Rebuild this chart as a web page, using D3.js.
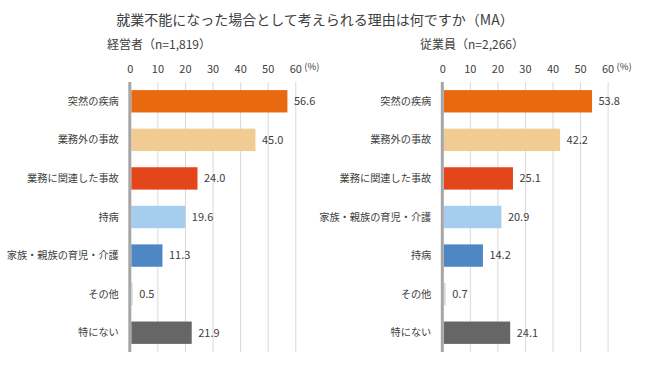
<!DOCTYPE html>
<html>
<head>
<meta charset="utf-8">
<script src="https://d3js.org/d3.v7.min.js"></script>
<style>
  body { margin: 0; background: #fff; }
  svg text { font-family: "Noto Sans CJK JP", "Noto Sans", sans-serif; fill: #404040; }
  .grid line { stroke: #d9d9d9; stroke-width: 1; }
  .grid text { font-size: 11px; }
  .cat { font-size: 10.2px; text-anchor: end; }
  .val { font-size: 11px; }
</style>
</head>
<body>
<svg id="chart" width="650" height="368"></svg>
<script>
// chart text
const title = '就業不能になった場合として考えられる理由は何ですか（MA）';
const ticks = [0, 10, 20, 30, 40, 50, 60];

// left panel: 経営者
const ownerTitle = '経営者（n=1,819）';
const ownerCats = ['突然の疾病', '業務外の事故', '業務に関連した事故', '持病', '家族・親族の育児・介護', 'その他', '特にない'];
const ownerVals = [56.6, 45.0, 24.0, 19.6, 11.3, 0.5, 21.9];

// right panel: 従業員
const staffTitle = '従業員（n=2,266）';
const staffCats = ['突然の疾病', '業務外の事故', '業務に関連した事故', '家族・親族の育児・介護', '持病', 'その他', '特にない'];
const staffVals = [53.8, 42.2, 25.1, 20.9, 14.2, 0.7, 24.1];

// colours go by row, not by category
const rowColors = ['#e8690f', '#f0cc92', '#e3461a', '#a6cdee', '#4f87c5', '#d9d9d9', '#666666'];

const svg = d3.select('#chart');
const plotTop = 82, plotBottom = 352;

svg.append('text')
  .attr('x', 315).attr('y', 25)
  .attr('text-anchor', 'middle')
  .style('font-size', '14px')
  .text(title);

function panel(x0, x1, heading, headingX, cats, vals) {
  const x = d3.scaleLinear().domain([0, 60]).range([x0, x1]);
  const y = d3.scaleBand().domain(cats).range([plotTop, plotBottom])
    .paddingInner(0.42).paddingOuter(0.21);

  svg.append('text')
    .attr('x', headingX).attr('y', 49)
    .style('font-size', '12px')
    .text(heading);

  const g = svg.append('g')
    .attr('class', 'grid')
    .attr('transform', `translate(0,${plotTop})`)
    .call(d3.axisTop(x).tickValues(ticks).tickSize(-(plotBottom - plotTop)).tickPadding(9));
  g.select('.domain').remove();
  g.selectAll('.tick line').attr('stroke', '#d9d9d9');
  g.selectAll('.tick text').attr('fill', '#404040');

  svg.append('text')
    .attr('x', x(60) + 9).attr('y', 70)
    .style('font-size', '9.5px')
    .text('(%)');

  svg.selectAll(null)
    .data(vals)
    .enter().append('rect')
    .attr('x', x(0) + 1.5)
    .attr('y', (d, i) => y(cats[i]))
    .attr('width', (d) => x(d) - x(0))
    .attr('height', y.bandwidth())
    .attr('fill', (d, i) => rowColors[i]);

  svg.append('line')
    .attr('x1', x(0)).attr('x2', x(0))
    .attr('y1', plotTop).attr('y2', plotBottom)
    .attr('stroke', '#a6a6a6').attr('stroke-width', 3);

  svg.selectAll(null)
    .data(cats)
    .enter().append('text')
    .attr('class', 'cat')
    .attr('x', x(0) - 11)
    .attr('y', (d) => y(d) + y.bandwidth() / 2)
    .attr('dy', '0.35em')
    .text((d) => d);

  svg.selectAll(null)
    .data(vals)
    .enter().append('text')
    .attr('class', 'val')
    .attr('x', (d) => x(d) + 8)
    .attr('y', (d, i) => y(cats[i]) + y.bandwidth() / 2)
    .attr('dy', '0.35em')
    .text((d) => d.toFixed(1));
}

panel(129.8, 295.3, ownerTitle, 107, ownerCats, ownerVals);
panel(442.3, 607.6, staffTitle, 420, staffCats, staffVals);
</script>
</body>
</html>
